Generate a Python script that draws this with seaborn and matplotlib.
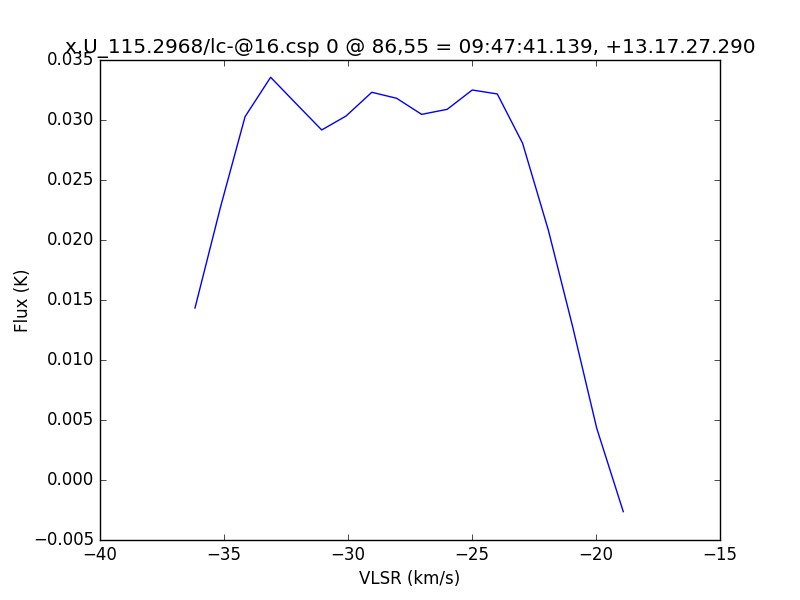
import matplotlib
matplotlib.use('Agg')
import matplotlib.pyplot as plt
import pandas as pd
import seaborn as sns

# spectrum
vlsr = [-36.17, -35.14, -34.15, -33.12, -32.10, -31.06, -30.08, -29.04, -28.04,
        -27.03, -26.00, -24.99, -23.98, -22.96, -21.92, -20.95, -19.97, -18.90]
flux = [0.01433, 0.02275, 0.03028, 0.03356, 0.03138, 0.02917, 0.03033, 0.03231, 0.03181,
        0.03047, 0.03089, 0.03250, 0.03217, 0.02806, 0.02081, 0.01285, 0.00431, -0.00264]

title = 'x.U_115.2968/lc-@16.csp 0 @ 86,55 = 09:47:41.139, +13.17.27.290'

plt.style.use('classic')
plt.rcParams['font.family'] = ['DejaVu Sans']

data = pd.DataFrame({'VLSR (km/s)': vlsr, 'Flux (K)': flux})

fig = plt.figure(figsize=(8, 6), dpi=100, facecolor='white')
ax = fig.add_axes([0.125, 0.1, 0.775, 0.8])
sns.lineplot(data=data, x='VLSR (km/s)', y='Flux (K)', color='b', linewidth=1.0, ax=ax)

ax.set_xlim(-40, -15)
ax.set_ylim(-0.005, 0.035)
ax.set_xticks([-40, -35, -30, -25, -20, -15])
yt = [-0.005, 0.0, 0.005, 0.010, 0.015, 0.020, 0.025, 0.030, 0.035]
ax.set_yticks(yt)
ax.set_yticklabels([('%.3f' % v).replace('-', '\u2212') for v in yt])
ax.set_title(title)
ax.yaxis.set_label_coords(-0.109, 0.5)
ax.tick_params(direction='in', top=True, right=True)

fig.savefig('out.png', dpi=100, facecolor='white')
